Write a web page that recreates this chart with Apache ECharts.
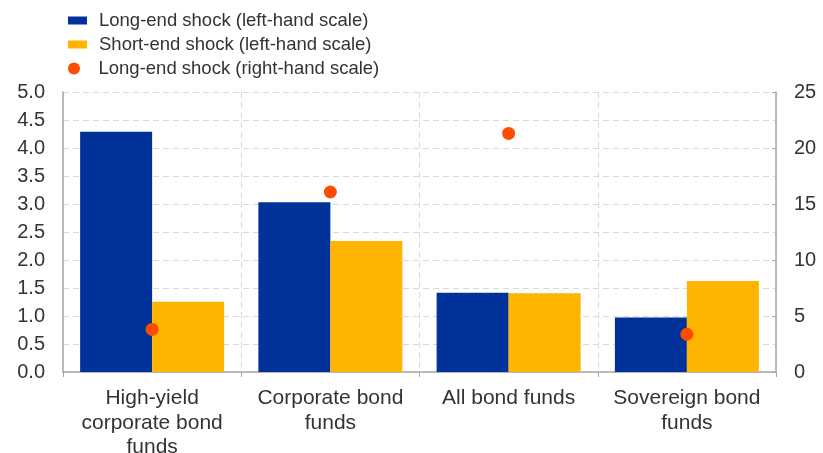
<!DOCTYPE html>
<html>
<head>
<meta charset="utf-8">
<script src="https://cdn.jsdelivr.net/npm/echarts@6/dist/echarts.min.js"></script>
<style>
html,body{margin:0;padding:0;background:#fff;}
#chart{width:823px;height:453px;}
</style>
</head>
<body>
<div id="chart"></div>
<script>
const categories = ["High-yield\ncorporate bond\nfunds", "Corporate bond\nfunds", "All bond funds", "Sovereign bond\nfunds"];
const longEndLeft = [4.29, 3.03, 1.415, 0.975];
const shortEndLeft = [1.255, 2.34, 1.405, 1.625];
const longEndRight = [3.8, 16.07, 21.3, 3.37];
const leftTicks = { min: 0, max: 5, interval: 0.5 };
const rightTicks = { min: 0, max: 25, interval: 5 };

const FONT = "'Liberation Sans', Arial, sans-serif";
const TXT = "#333333";
const names = ["Long-end shock (left-hand scale)", "Short-end shock (left-hand scale)", "Long-end shock (right-hand scale)"];

const chart = echarts.init(document.getElementById('chart'));
function legendAt(top, name, h, icon, pad) {
  return {
    left: 63, top: top, itemWidth: 19, itemHeight: h, icon: icon,
    data: [name], selectedMode: false,
    textStyle: { fontFamily: FONT, fontSize: 18.5, color: TXT, padding: [0, 0, 0, pad] }
  };
}
chart.setOption({
  animation: false,
  legend: [
    legendAt(6, names[0], 8, 'rect', 7),
    legendAt(30, names[1], 8, 'rect', 7),
    legendAt(54, names[2], 12, 'circle', 10)
  ],
  grid: { left: 63, right: 47, top: 92, bottom: 81, outerBoundsMode: 'none', containLabel: false },
  xAxis: {
    type: 'category',
    data: categories,
    axisLine: { lineStyle: { color: '#a6a6a6', width: 1.5 } },
    axisTick: { show: true, length: 5, lineStyle: { color: '#a6a6a6' } },
    splitLine: { show: true, lineStyle: { color: '#d9d9d9', type: [6, 4] } },
    axisLabel: { fontFamily: FONT, fontSize: 21, color: TXT, lineHeight: 24.5, margin: 14, interval: 0 }
  },
  yAxis: [
    {
      type: 'value', min: leftTicks.min, max: leftTicks.max, interval: leftTicks.interval,
      axisLine: { show: true, lineStyle: { color: '#a6a6a6', width: 1.5 } },
      axisTick: { show: false },
      splitLine: { show: true, lineStyle: { color: '#d9d9d9', type: [6, 4] } },
      axisLabel: { fontFamily: FONT, fontSize: 20, color: TXT, margin: 18, formatter: v => v.toFixed(1) }
    },
    {
      type: 'value', min: rightTicks.min, max: rightTicks.max, interval: rightTicks.interval,
      axisLine: { show: true, lineStyle: { color: '#a6a6a6', width: 1.5 } },
      axisTick: { show: true, inside: true, length: 4, lineStyle: { color: '#a6a6a6' } },
      splitLine: { show: false },
      axisLabel: { fontFamily: FONT, fontSize: 20, color: TXT, margin: 18 }
    }
  ],
  series: [
    { name: names[0], type: 'bar', data: longEndLeft, barWidth: 72, barGap: '0%', itemStyle: { color: '#003299' } },
    { name: names[1], type: 'bar', data: shortEndLeft, barWidth: 72, barGap: '0%', itemStyle: { color: '#FFB400' } },
    { name: names[2], type: 'scatter', yAxisIndex: 1, data: longEndRight, symbol: 'circle', symbolSize: 13, itemStyle: { color: '#FF4B00', opacity: 1 }, z: 5 }
  ]
});
</script>
</body>
</html>
